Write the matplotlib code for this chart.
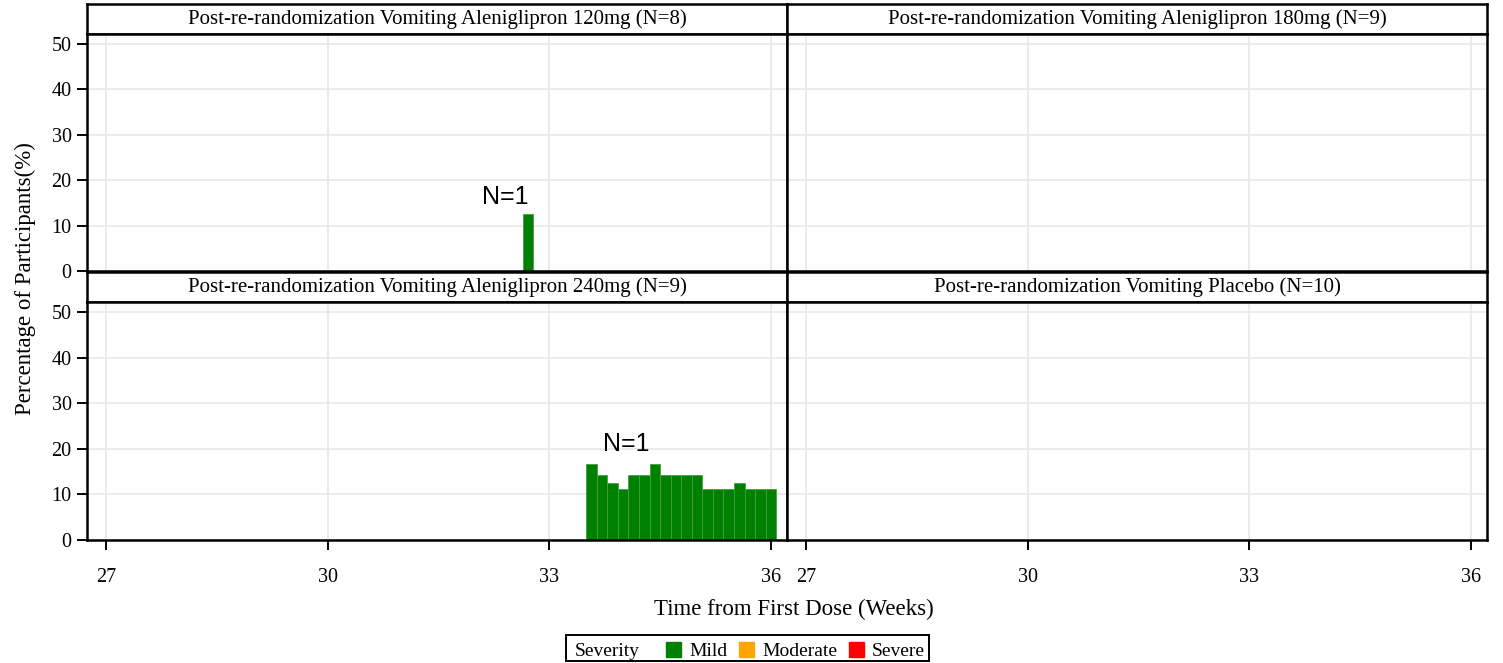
import matplotlib
matplotlib.use('Agg')
import matplotlib.pyplot as plt
from matplotlib.patches import Rectangle

W, H = 1503, 663

# panel titles
titles = ['Post-re-randomization Vomiting Aleniglipron 120mg (N=8)',
          'Post-re-randomization Vomiting Aleniglipron 180mg (N=9)',
          'Post-re-randomization Vomiting Aleniglipron 240mg (N=9)',
          'Post-re-randomization Vomiting Placebo (N=10)']

# bars: day from first dose, percentage of participants (all Mild)
days_120 = [229]
pct_120 = [12.5]
days_180 = []
pct_180 = []
days_240 = [235, 236, 237, 238, 239, 240, 241, 242, 243, 244, 245, 246, 247, 248, 249, 250, 251, 252]
pct_240 = [16.7, 14.3, 12.5, 11.1, 14.3, 14.3, 16.7, 14.3, 14.3, 14.3, 14.3, 11.1, 11.1, 11.1, 12.5, 11.1, 11.1, 11.1]
days_pbo = []
pct_pbo = []

xticks = [27, 30, 33, 36]
yticks = [0, 10, 20, 30, 40, 50]

severity = ['Mild', 'Moderate', 'Severe']
sev_colors = ['#008000', '#FFA500', '#FF0000']

serif = 'Liberation Serif'
plt.rcParams['font.family'] = [serif, 'DejaVu Serif']

fig = plt.figure(figsize=(W / 100, H / 100), dpi=100)


def px_axes(x0, y0, x1, y1):
    return fig.add_axes([x0 / W, 1 - y1 / H, (x1 - x0) / W, (y1 - y0) / H])


panels = [
    (87, 34, 787, 271, days_120, pct_120, (32.41, 16.3)),
    (787, 34, 1487, 271, days_180, pct_180, None),
    (87, 302, 787, 540, days_240, pct_240, (34.04, 21.1)),
    (787, 302, 1487, 540, days_pbo, pct_pbo, None),
]

for i, (x0, y0, x1, y1, days, pct, lab) in enumerate(panels):
    # header strip
    st = px_axes(x0, y0 - 30, x1, y0)
    st.set_xticks([])
    st.set_yticks([])
    for s in st.spines.values():
        s.set_linewidth(1.8)
    st.text(0.5, 0.5, titles[i], ha='center', va='center', fontsize=15,
            transform=st.transAxes)

    ax = px_axes(x0, y0, x1, y1)
    ax.set_xlim(26.743, 36.217)
    ax.set_ylim(0, 52.2)
    ax.set_xticks(xticks)
    ax.set_yticks(yticks)
    ax.grid(True, color='#e8e8e8', lw=1.2)
    ax.set_axisbelow(True)
    for s in ax.spines.values():
        s.set_linewidth(1.8)
    if days:
        wk = [d / 7 for d in days]
        ax.bar(wk, pct, width=1 / 7, color=sev_colors[0],
               edgecolor='#44a044', linewidth=0.6, zorder=2)
    if lab:
        ax.text(lab[0], lab[1], 'N=1', ha='center', va='center',
                fontsize=18, family='Liberation Sans')
    ax.tick_params(axis='both', labelsize=14.5, length=7, width=1.4, pad=4)
    if i % 2 == 1:
        ax.tick_params(axis='y', left=False, labelleft=False)
    if i < 2:
        ax.tick_params(axis='x', bottom=False, labelbottom=False)
    else:
        ax.tick_params(axis='x', pad=13)

fig.text(25 / W, 1 - 279 / H, 'Percentage of Participants(%)', rotation=90,
         ha='center', va='center', fontsize=16.5)
fig.text(794 / W, 1 - 609 / H, 'Time from First Dose (Weeks)',
         ha='center', va='center', fontsize=16.5)

# legend box
lg = px_axes(566, 635, 929, 661)
lg.set_xlim(566, 929)
lg.set_ylim(661, 635)
lg.set_xticks([])
lg.set_yticks([])
for s in lg.spines.values():
        s.set_linewidth(1.4)
lg.text(575, 655.5, 'Severity', ha='left', va='baseline', fontsize=14)
sq_x = [666, 739, 849]
for name, col, sx in zip(severity, sev_colors, sq_x):
    lg.add_patch(Rectangle((sx, 641.5), 15, 15, color=col))
    lg.text(sx + 23, 655.5, name, ha='left', va='baseline', fontsize=14)

fig.savefig('out.png', dpi=100)
